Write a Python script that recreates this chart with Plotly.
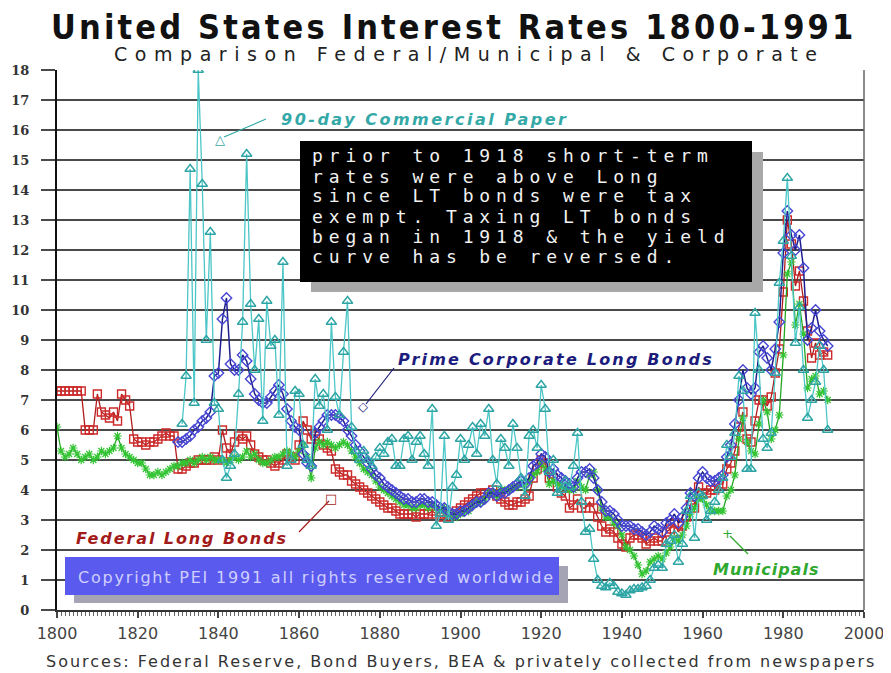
import plotly.graph_objects as go

# ---------------- data ----------------
fed_years = list(range(1800, 1992))
fed_rates = [
    7.3, 7.3, 7.3, 7.3, 7.3, 7.3, 7.3, 6.0, 6.0, 6.0,
    7.2, 6.6, 6.5, 6.4, 6.6, 6.3, 7.2, 7.0, 6.8, 5.7,
    5.6, 5.6, 5.5, 5.6, 5.6, 5.7, 5.8, 5.9, 5.8, 5.8,
    4.7, 4.7, 4.8, 4.9, 4.9, 5.0, 5.0, 5.0, 5.0, 5.1,
    5.0, 6.0, 5.4, 5.2, 5.6, 5.8, 5.7, 5.8, 5.5, 5.2,
    5.1, 5.0, 5.0, 4.9, 4.8, 4.9, 5.0, 5.2, 5.1, 5.0,
    5.5, 6.3, 6.0, 5.7, 5.8, 5.7, 5.5, 5.4, 5.3, 4.7,
    4.6, 4.5, 4.5, 4.3, 4.2, 4.1, 4.0, 3.9, 3.8, 3.7,
    3.6, 3.5, 3.4, 3.4, 3.3, 3.2, 3.2, 3.2, 3.2, 3.1,
    3.2, 3.2, 3.2, 3.3, 3.2, 3.1, 3.2, 3.1, 3.2, 3.3,
    3.4, 3.5, 3.6, 3.7, 3.8, 3.9, 3.9, 3.9, 4.0, 3.8,
    3.7, 3.6, 3.5, 3.5, 3.6, 3.6, 3.7, 3.8, 4.4, 4.7,
    5.0, 4.9, 4.4, 4.4, 4.1, 3.9, 3.8, 3.4, 3.5, 3.7,
    3.4, 3.4, 3.6, 3.4, 3.1, 2.8, 2.6, 2.7, 2.6, 2.4,
    2.2, 2.1, 2.4, 2.5, 2.5, 2.4, 2.2, 2.3, 2.4, 2.3,
    2.3, 2.6, 2.7, 2.9, 2.6, 2.8, 3.1, 3.5, 3.4, 4.1,
    3.9, 3.9, 4.0, 4.0, 4.2, 4.2, 4.7, 4.9, 5.3, 6.1,
    6.6, 5.7, 5.6, 6.3, 7.0, 7.0, 6.8, 7.1, 7.9, 8.7,
    10.6, 13.0, 12.2, 10.8, 11.3, 10.3, 9.3, 8.4, 8.9, 8.5,
    8.6, 8.5,
]

muni_years = list(range(1800, 1992))
muni_rates = [
    6.1, 5.3, 5.1, 5.2, 5.4, 5.2, 5.0, 5.1, 5.2, 5.0,
    5.1, 5.3, 5.2, 5.3, 5.4, 5.8, 5.4, 5.2, 5.1, 5.0,
    4.9, 4.9, 4.7, 4.5, 4.5, 4.6, 4.5, 4.6, 4.7, 4.8,
    4.8, 4.9, 4.9, 5.0, 4.9, 5.0, 5.1, 5.0, 5.1, 5.0,
    5.0, 5.0, 4.9, 5.0, 5.1, 5.0, 5.1, 5.3, 5.1, 5.2,
    5.0, 4.9, 4.9, 5.0, 5.1, 5.1, 5.2, 5.3, 5.2, 5.1,
    5.3, 5.5, 5.1, 4.4, 5.4, 5.6, 5.5, 5.6, 5.5, 5.4,
    5.5, 5.6, 5.5, 5.3, 5.1, 4.9, 4.7, 4.6, 4.5, 4.3,
    4.1, 4.0, 3.9, 3.8, 3.7, 3.6, 3.5, 3.5, 3.4, 3.4,
    3.5, 3.5, 3.4, 3.5, 3.4, 3.3, 3.4, 3.2, 3.2, 3.1,
    3.2, 3.3, 3.3, 3.5, 3.6, 3.6, 3.7, 3.9, 3.9, 3.8,
    4.0, 4.0, 4.0, 4.1, 4.1, 4.2, 4.1, 4.3, 4.5, 4.6,
    4.9, 4.7, 4.2, 4.3, 4.2, 4.1, 4.1, 4.0, 4.0, 4.3,
    4.1, 4.0, 4.5, 4.6, 4.0, 3.4, 3.1, 3.1, 2.9, 2.8,
    2.5, 2.1, 2.0, 1.8, 1.5, 1.2, 1.3, 1.6, 1.7, 1.8,
    1.7, 1.9, 2.1, 2.4, 2.3, 2.5, 2.8, 3.2, 3.4, 3.7,
    3.7, 3.5, 3.3, 3.3, 3.3, 3.3, 3.8, 4.0, 4.5, 5.7,
    6.4, 5.6, 5.3, 5.2, 6.2, 7.0, 6.6, 5.7, 6.0, 6.5,
    8.5, 11.2, 11.6, 9.5, 10.2, 9.2, 7.4, 7.7, 7.8, 7.2,
    7.3, 7.0,
]

corp_years = list(range(1830, 1992))
corp_rates = [
    5.6, 5.6, 5.7, 5.8, 6.0, 6.1, 6.3, 6.4, 6.6, 7.8,
    7.9, 9.7, 10.4, 8.2, 8.0, 8.0, 8.5, 8.3, 7.7, 7.2,
    7.0, 6.9, 6.9, 7.1, 7.3, 7.5, 7.2, 6.7, 6.3, 6.1,
    6.0, 5.2, 4.9, 4.8, 5.9, 6.1, 6.3, 6.5, 6.5, 6.5,
    6.4, 6.3, 6.0, 5.8, 5.5, 5.3, 5.1, 4.9, 4.7, 4.5,
    4.4, 4.2, 4.1, 4.0, 3.9, 3.8, 3.7, 3.7, 3.6, 3.6,
    3.7, 3.7, 3.6, 3.6, 3.5, 3.4, 3.4, 3.3, 3.2, 3.2,
    3.3, 3.3, 3.4, 3.5, 3.6, 3.6, 3.7, 3.9, 3.9, 3.8,
    3.9, 3.9, 4.0, 4.1, 4.2, 4.3, 4.2, 4.4, 4.8, 4.9,
    5.2, 5.1, 4.6, 4.7, 4.5, 4.4, 4.3, 4.2, 4.1, 4.4,
    4.6, 4.6, 4.7, 4.4, 4.0, 3.6, 3.3, 3.3, 3.2, 3.0,
    2.8, 2.8, 2.8, 2.7, 2.7, 2.6, 2.5, 2.6, 2.8, 2.7,
    2.6, 2.9, 3.0, 3.2, 2.9, 3.1, 3.4, 3.9, 3.8, 4.4,
    4.6, 4.4, 4.3, 4.3, 4.4, 4.5, 5.1, 5.5, 6.2, 7.0,
    8.0, 7.4, 7.2, 7.4, 8.6, 8.8, 8.4, 8.0, 8.7, 9.6,
    11.9, 13.3, 12.5, 12.0, 12.5, 11.4, 9.0, 9.4, 10.0, 9.3,
    9.0, 8.8,
]

cp_years = list(range(1831, 1992))
cp_rates = [
    6.2, 7.8, 14.7, 6.9, 18.0, 14.2, 9.0, 12.6, 6.9,
    6.7, 5.0, 4.4, 4.8, 5.2, 7.2, 9.6, 15.2, 10.2, 8.0,
    9.7, 6.3, 10.3, 8.8, 9.0, 6.5, 11.6, 4.8, 5.0, 7.3,
    7.2, 5.5, 5.0, 4.8, 7.7, 6.8, 7.2, 6.0, 9.6, 7.1,
    6.5, 8.6, 10.3, 6.1, 5.3, 5.0, 5.3, 5.0, 4.8, 5.1,
    5.4, 5.2, 5.6, 5.7, 4.8, 4.8, 5.7, 5.8, 5.0, 5.6,
    5.8, 5.2, 4.8, 6.7, 2.8, 3.2, 5.8, 3.0, 4.1, 4.5,
    5.7, 5.0, 5.5, 6.1, 5.2, 6.2, 5.8, 6.7, 5.0, 4.2,
    5.7, 5.4, 4.8, 6.2, 5.4, 4.4, 3.8, 5.8, 6.0, 5.4,
    7.5, 6.7, 4.6, 5.0, 3.9, 4.0, 4.3, 4.1, 4.8, 5.9,
    3.6, 2.6, 2.7, 1.7, 1.0, 0.8, 0.75, 0.9, 0.8, 0.6,
    0.55, 0.5, 0.65, 0.7, 0.7, 0.75, 0.8, 1.0, 1.4, 1.5,
    1.4, 2.2, 2.3, 2.5, 1.6, 2.2, 3.3, 3.8, 2.4, 3.9,
    3.8, 3.0, 3.3, 3.6, 4.0, 4.4, 5.5, 5.1, 5.9, 7.8,
    7.3, 4.7, 4.7, 9.9, 8.0, 5.7, 5.4, 5.9, 7.9, 10.9,
    12.3, 14.4, 11.8, 8.9, 10.1, 8.0, 6.4, 7.0, 7.6, 8.8,
    8.0, 6.0,
]

x_ticks = [1800, 1820, 1840, 1860, 1880, 1900, 1920, 1940, 1960, 1980, 2000]
y_ticks = list(range(0, 19))

# ---------------- layout helpers ----------------
W, H = 891, 673
OFF = 8                      # page body margin of the html page
L, R, T, B = 57, 864, 70, 610  # plot area in page pixels


def PX(x):
    return (x - L) / (R - L)


def PY(y):
    return (B - y) / (B - T)


def spaced(text, px):
    return '<span style="letter-spacing:%spx">%s</span>' % (px, text)


fig = go.Figure()

fig.add_trace(go.Scatter(
    x=fed_years, y=fed_rates, mode="lines+markers", name="Federal Long Bonds",
    line=dict(color="#b01c1c", width=1.3),
    marker=dict(symbol="square-open", size=8, color="#cc2a2a", line=dict(width=1.4)),
))
fig.add_trace(go.Scatter(
    x=muni_years, y=muni_rates, mode="lines+markers", name="Municipals",
    line=dict(color="#22a822", width=1.3),
    marker=dict(symbol="asterisk-open", size=7, color="#33c433", line=dict(width=1.2)),
))
fig.add_trace(go.Scatter(
    x=corp_years, y=corp_rates, mode="lines+markers", name="Prime Corporate Long Bonds",
    line=dict(color="#1e1e8e", width=1.5),
    marker=dict(symbol="diamond-open", size=8, color="#4646d2", line=dict(width=1.4)),
))
fig.add_trace(go.Scatter(
    x=cp_years, y=cp_rates, mode="lines+markers", name="90-day Commercial Paper",
    line=dict(color="#4cc6c6", width=1.3),
    marker=dict(symbol="triangle-up-open", size=9, color="#2ea4a4", line=dict(width=1.4)),
))

shapes = []
annotations = []

# right frame line
shapes.append(dict(type="line", xref="paper", yref="paper", x0=1, x1=1, y0=0, y1=1,
                   line=dict(color="#666666", width=1.5)))

# black text box with shadow
shapes.append(dict(type="rect", xref="paper", yref="paper", layer="above",
                   x0=PX(311), x1=PX(763), y0=PY(292), y1=PY(152),
                   fillcolor="#a8a8a8", line=dict(width=0)))
shapes.append(dict(type="rect", xref="paper", yref="paper", layer="above",
                   x0=PX(300), x1=PX(752), y0=PY(282), y1=PY(141),
                   fillcolor="#000000", line=dict(width=0)))
box_lines = [
    "prior to 1918 short-term",
    "rates were above Long",
    "since LT bonds were tax",
    "exempt. Taxing LT bonds",
    "began in 1918 & the yield",
    "curve has be reversed.",
]
for i, t in enumerate(box_lines):
    annotations.append(dict(
        xref="paper", yref="paper", x=PX(310), y=PY(156 + 20 * i),
        xanchor="left", yanchor="middle", showarrow=False,
        text=spaced(t.replace("&", "&amp;"), 5.9),
        font=dict(family="DejaVu Sans Mono", size=18, color="#f2f2f2"),
    ))

# copyright box with shadow
shapes.append(dict(type="rect", xref="paper", yref="paper", layer="above",
                   x0=PX(74), x1=PX(568), y0=PY(603), y1=PY(566),
                   fillcolor="#a4a4b4", line=dict(width=0)))
shapes.append(dict(type="rect", xref="paper", yref="paper", layer="above",
                   x0=PX(65), x1=PX(559), y0=PY(595), y1=PY(557),
                   fillcolor="#5a5aee", line=dict(width=0)))
annotations.append(dict(
    xref="paper", yref="paper", x=PX(76), y=PY(577), xanchor="left", yanchor="middle",
    showarrow=False,
    text=spaced("Copyright PEI 1991 all rights reserved worldwide", 1.8),
    font=dict(family="DejaVu Sans", size=16, color="#cfcfff"),
))

# series labels with pointer lines and marker glyphs
labels = [
    ("90-day Commercial Paper", 279, 119, "#35a8a8", 2.5, (266, 119, 224, 137), "△", 220, 139),
    ("Prime Corporate Long Bonds", 396, 359, "#1c1c7c", 2.2, (394, 368, 366, 404), "◇", 363, 407),
    ("Federal Long Bonds", 74, 538, "#a31a1a", 1.9, (299, 532, 329, 501), "□", 331, 498),
    ("Municipals", 711, 569, "#2fa82f", 1.0, (748, 554, 730, 536), "+", 727, 533),
]
for text, tx, ty, col, sp, ln, glyph, gx, gy in labels:
    annotations.append(dict(
        xref="paper", yref="paper", x=PX(tx), y=PY(ty), xanchor="left", yanchor="middle",
        showarrow=False,
        text=spaced("<b><i>" + text + "</i></b>", sp),
        font=dict(family="DejaVu Sans", size=16, color=col),
    ))
    shapes.append(dict(type="line", xref="paper", yref="paper",
                       x0=PX(ln[0]), y0=PY(ln[1]), x1=PX(ln[2]), y1=PY(ln[3]),
                       line=dict(color=col, width=1.2)))
    annotations.append(dict(
        xref="paper", yref="paper", x=PX(gx), y=PY(gy), xanchor="center", yanchor="middle",
        showarrow=False, text=glyph,
        font=dict(family="DejaVu Sans", size=13, color=col),
    ))

# titles and source
annotations.append(dict(
    xref="paper", yref="paper", x=PX(453), y=PY(26.5), xanchor="center", yanchor="middle",
    showarrow=False, text=spaced("<b>United States Interest Rates 1800-1991</b>", 3.15),
    font=dict(family="DejaVu Sans Condensed, DejaVu Sans", size=34, color="#111111"),
))
annotations.append(dict(
    xref="paper", yref="paper", x=PX(469), y=PY(54), xanchor="center", yanchor="middle",
    showarrow=False,
    text=spaced("Comparison Federal/Municipal &amp; Corporate", 7.55),
    font=dict(family="DejaVu Sans", size=19, color="#222222"),
))
annotations.append(dict(
    xref="paper", yref="paper", x=PX(461), y=PY(661), xanchor="center", yanchor="middle",
    showarrow=False,
    text=spaced("Sources: Federal Reserve, Bond Buyers, BEA &amp; privately collected from newspapers", 2.0),
    font=dict(family="DejaVu Sans", size=16, color="#333333"),
))

fig.update_layout(
    width=W, height=H,
    margin=dict(l=L - OFF, r=W - (R - OFF), t=T - OFF, b=H - (B - OFF), pad=0),
    paper_bgcolor="white", plot_bgcolor="white",
    showlegend=False,
    shapes=shapes, annotations=annotations,
    xaxis=dict(
        range=[1800, 2000], tickvals=x_ticks, ticktext=[str(v) for v in x_ticks],
        automargin=False,
        showgrid=False, zeroline=False, showline=True, linecolor="#333333", linewidth=2,
        ticks="outside", ticklen=6, tickwidth=1.5, tickcolor="#444444",
        minor=dict(dtick=1, ticks="outside", ticklen=4, tickcolor="#666666", tickwidth=1),
        tickfont=dict(family="DejaVu Sans", size=16, color="#444444"),
        ticklabelstandoff=2,
    ),
    yaxis=dict(
        range=[0, 18], tickvals=y_ticks, automargin=False,
        showgrid=True, gridcolor="#4a4a4a", gridwidth=2,
        zeroline=False, showline=True, linecolor="#111111", linewidth=2,
        ticks="outside", ticklen=14, tickwidth=2, tickcolor="#4a4a4a",
        tickfont=dict(family="DejaVu Serif", size=13, color="#333333", weight="bold"),
        ticklabelstandoff=9,
    ),
)

fig.write_html("out.html")
